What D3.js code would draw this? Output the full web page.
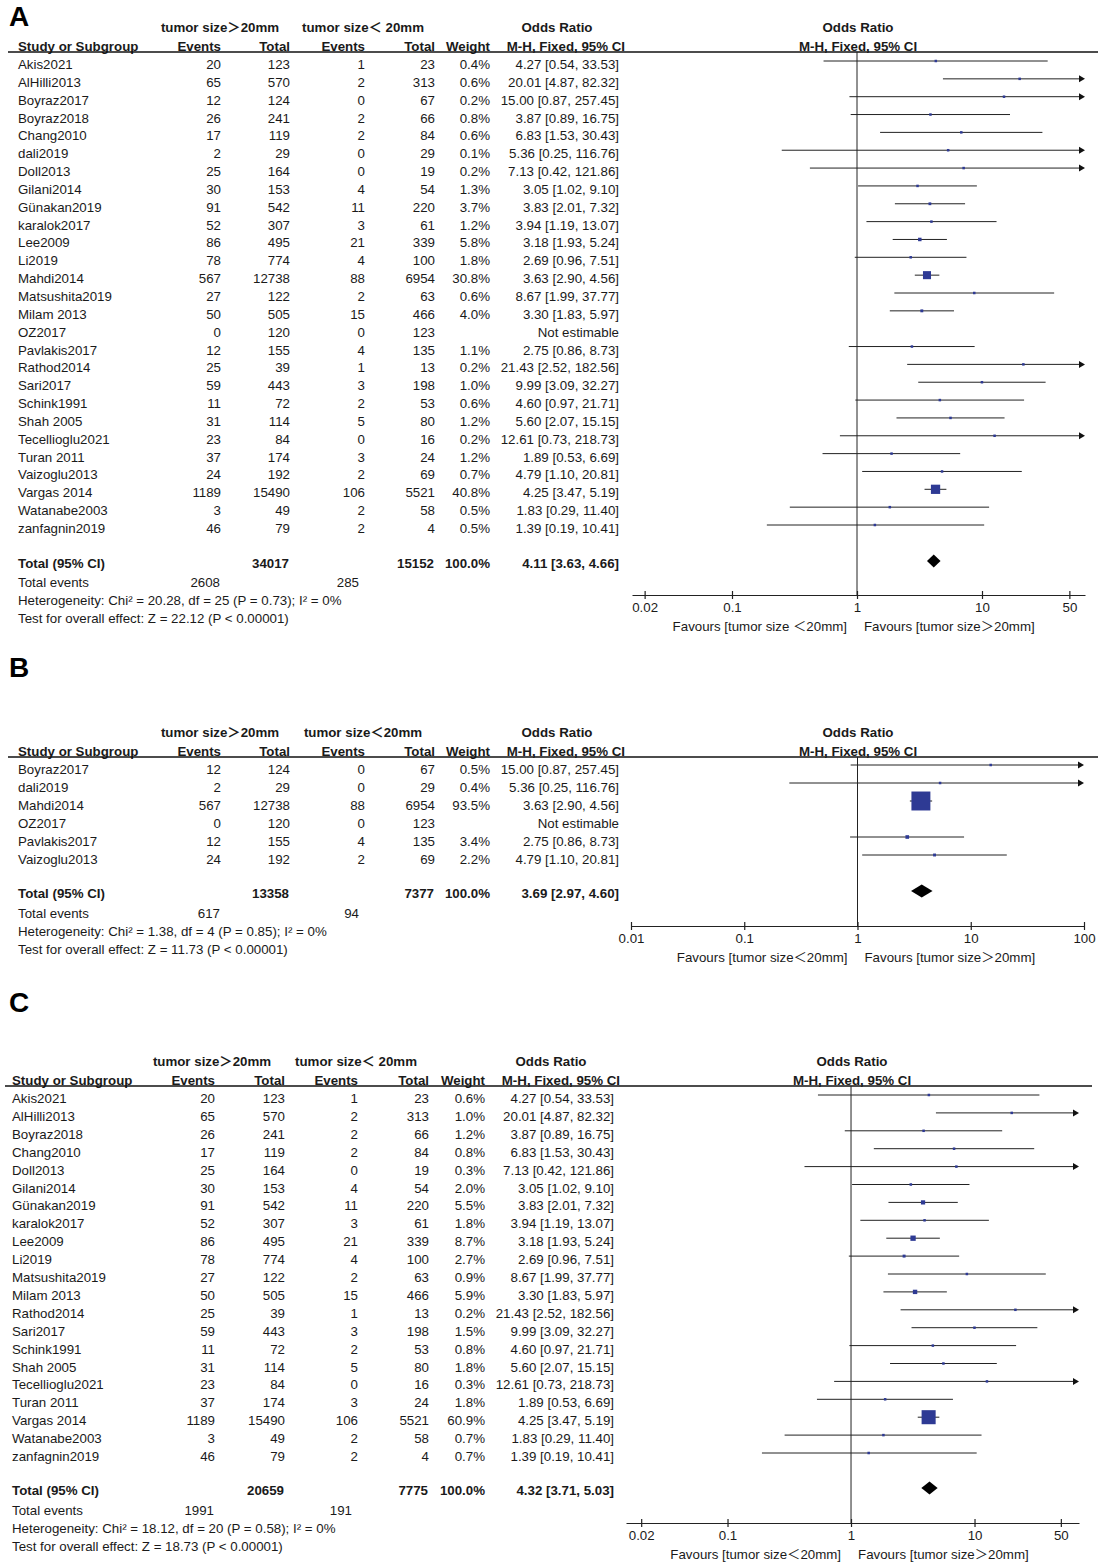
<!DOCTYPE html>
<html><head><meta charset="utf-8">
<script src="https://cdn.jsdelivr.net/npm/d3@7"></script>
<style>
body{margin:0;background:#fff}
svg text{font-family:"Liberation Sans",Arial,"Noto Sans CJK SC",sans-serif;font-size:13.3px;fill:#1a1a1a}
svg text.b{font-weight:bold}
svg text.plabel{font-size:28px;font-weight:bold;fill:#000}
</style></head><body><svg id="c" width="1098" height="1563"></svg>
<script>
// ---------- DATA ----------
const studies = ["Akis2021","AlHilli2013","Boyraz2017","Boyraz2018","Chang2010","dali2019","Doll2013","Gilani2014","Günakan2019","karalok2017","Lee2009","Li2019","Mahdi2014","Matsushita2019","Milam 2013","OZ2017","Pavlakis2017","Rathod2014","Sari2017","Schink1991","Shah 2005","Tecellioglu2021","Turan 2011","Vaizoglu2013","Vargas 2014","Watanabe2003","zanfagnin2019"];
const eventsOver = [20,65,12,26,17,2,25,30,91,52,86,78,567,27,50,0,12,25,59,11,31,23,37,24,1189,3,46];
const totalOver = [123,570,124,241,119,29,164,153,542,307,495,774,12738,122,505,120,155,39,443,72,114,84,174,192,15490,49,79];
const eventsUnder = [1,2,0,2,2,0,0,4,11,3,21,4,88,2,15,0,4,1,3,2,5,0,3,2,106,2,2];
const totalUnder = [23,313,67,66,84,29,19,54,220,61,339,100,6954,63,466,123,135,13,198,53,80,16,24,69,5521,58,4];
const oddsRatio = [4.27,20.01,15.00,3.87,6.83,5.36,7.13,3.05,3.83,3.94,3.18,2.69,3.63,8.67,3.30,null,2.75,21.43,9.99,4.60,5.60,12.61,1.89,4.79,4.25,1.83,1.39];
const ciLower = [0.54,4.87,0.87,0.89,1.53,0.25,0.42,1.02,2.01,1.19,1.93,0.96,2.90,1.99,1.83,null,0.86,2.52,3.09,0.97,2.07,0.73,0.53,1.10,3.47,0.29,0.19];
const ciUpper = [33.53,82.32,257.45,16.75,30.43,116.76,121.86,9.10,7.32,13.07,5.24,7.51,4.56,37.77,5.97,null,8.73,182.56,32.27,21.71,15.15,218.73,6.69,20.81,5.19,11.40,10.41];
const weightA = [0.4,0.6,0.2,0.8,0.6,0.1,0.2,1.3,3.7,1.2,5.8,1.8,30.8,0.6,4.0,null,1.1,0.2,1.0,0.6,1.2,0.2,1.2,0.7,40.8,0.5,0.5];
const studiesB = ["Boyraz2017","dali2019","Mahdi2014","OZ2017","Pavlakis2017","Vaizoglu2013"];
const weightB = [0.5,0.4,93.5,null,3.4,2.2];
const studiesC = ["Akis2021","AlHilli2013","Boyraz2018","Chang2010","Doll2013","Gilani2014","Günakan2019","karalok2017","Lee2009","Li2019","Matsushita2019","Milam 2013","Rathod2014","Sari2017","Schink1991","Shah 2005","Tecellioglu2021","Turan 2011","Vargas 2014","Watanabe2003","zanfagnin2019"];
const weightC = [0.6,1.0,1.2,0.8,0.3,2.0,5.5,1.8,8.7,2.7,0.9,5.9,0.2,1.5,0.8,1.8,0.3,1.8,60.9,0.7,0.7];
// totals: [total >20mm, total <20mm, OR, lower, upper, events >20mm, events <20mm]
const totalsA = [34017,15152,4.11,3.63,4.66,2608,285];
const totalsB = [13358,7377,3.69,2.97,4.60,617,94];
const totalsC = [20659,7775,4.32,3.71,5.03,1991,191];
// [Chi², df, P, I², Z]
const statsA = ["20.28","25","0.73","0%","22.12"];
const statsB = ["1.38","4","0.85","0%","11.73"];
const statsC = ["18.12","20","0.58","0%","18.73"];
const ticksAC = [0.02,0.1,1,10,50];
const ticksB = [0.01,0.1,1,10,100];

// ---------- LAYOUT ----------
const svg = d3.select("#c");
const f2 = d3.format(".2f");
const colsAB = {name:18, ev1:221, tot1:290, ev2:365, tot2:435, w:490, ci:619, cih:625, h1:[220,363,557], ph:858};
const colsC = {name:12, ev1:215, tot1:285, ev2:358, tot2:429, w:485, ci:614, cih:620, h1:[212,356,551], ph:852};

function rowsFor(names, weights){
  return names.map((n,i)=>{const k=studies.indexOf(n);return {name:n,e1:eventsOver[k],t1:totalOver[k],e2:eventsUnder[k],t2:totalUnder[k],or:oddsRatio[k],lo:ciLower[k],hi:ciUpper[k],w:weights[i]};});
}

function drawPanel(cfg, rows, totals, stats){
  const g = svg.append("g");
  const c = cfg.cols;
  g.append("text").attr("class","plabel").attr("x",cfg.labelX).attr("y",cfg.labelY).text(cfg.label);
  const h1y = cfg.lineY-20, h2y = cfg.lineY-1;
  [[cfg.grpHi,c.h1[0]],[cfg.grpLo,c.h1[1]],["Odds Ratio",c.h1[2]],["Odds Ratio",c.ph]].forEach(([t,x])=>{
    g.append("text").attr("class","b").attr("x",x).attr("y",h1y).attr("text-anchor","middle").text(t);
  });
  g.append("text").attr("class","b").attr("x",c.name).attr("y",h2y).text("Study or Subgroup");
  [["Events",c.ev1],["Total",c.tot1],["Events",c.ev2],["Total",c.tot2],["Weight",c.w],["M-H, Fixed, 95% CI",c.cih]].forEach(([t,x])=>{
    g.append("text").attr("class","b").attr("x",x).attr("y",h2y).attr("text-anchor","end").text(t);
  });
  g.append("text").attr("class","b").attr("x",c.ph).attr("y",h2y).attr("text-anchor","middle").text("M-H, Fixed, 95% CI");
  g.append("line").attr("x1",cfg.lineX[0]).attr("x2",cfg.lineX[1]).attr("y1",cfg.lineY).attr("y2",cfg.lineY).attr("stroke","#111").attr("stroke-width",1.3);

  const x = d3.scaleLog().domain(cfg.domain).range(cfg.range);
  const y = d3.scaleLinear().domain([0,rows.length-1]).range([cfg.firstRow,cfg.lastRow]);
  const [dmin,dmax] = cfg.domain;

  rows.forEach((r,i)=>{
    const ty = y(i)+cfg.textDy;
    g.append("text").attr("x",c.name).attr("y",ty).text(r.name);
    [[r.e1,c.ev1],[r.t1,c.tot1],[r.e2,c.ev2],[r.t2,c.tot2]].forEach(([v,xx])=>{
      g.append("text").attr("x",xx).attr("y",ty).attr("text-anchor","end").text(v);
    });
    if(r.w!=null) g.append("text").attr("x",c.w).attr("y",ty).attr("text-anchor","end").text(r.w.toFixed(1)+"%");
    g.append("text").attr("x",c.ci).attr("y",ty).attr("text-anchor","end")
      .text(r.or==null?"Not estimable":`${f2(r.or)} [${f2(r.lo)}, ${f2(r.hi)}]`);
  });

  g.append("line").attr("x1",x(1)).attr("x2",x(1)).attr("y1",cfg.lineY).attr("y2",cfg.axisY).attr("stroke","#222").attr("stroke-width",1);

  const est = rows.map((r,i)=>({...r,i})).filter(r=>r.or!=null);
  est.forEach(r=>{
    const yc = y(r.i);
    const x0 = x(Math.max(r.lo,dmin)), x1 = x(Math.min(r.hi,dmax));
    g.append("line").attr("x1",x0).attr("x2",r.hi>dmax?x1-3:x1).attr("y1",yc).attr("y2",yc).attr("stroke","#222").attr("stroke-width",1);
    if(r.hi>dmax) g.append("path").attr("d",`M${x1},${yc}L${x1-6},${yc-3.5}L${x1-6},${yc+3.5}Z`).attr("fill","#111");
    if(r.lo<dmin) g.append("path").attr("d",`M${x0},${yc}L${x0+6},${yc-3.5}L${x0+6},${yc+3.5}Z`).attr("fill","#111");
    const s = Math.max(2.5, cfg.sq*Math.sqrt(r.w));
    g.append("rect").attr("x",x(r.or)-s/2).attr("y",yc-s/2).attr("width",s).attr("height",s).attr("fill","#2E3A94");
  });

  const ty = cfg.totalY+6.5;
  g.append("text").attr("class","b").attr("x",c.name).attr("y",ty).text("Total (95% CI)");
  g.append("text").attr("class","b").attr("x",c.tot1-1).attr("y",ty).attr("text-anchor","end").text(totals[0]);
  g.append("text").attr("class","b").attr("x",c.tot2-1).attr("y",ty).attr("text-anchor","end").text(totals[1]);
  g.append("text").attr("class","b").attr("x",c.w).attr("y",ty).attr("text-anchor","end").text("100.0%");
  g.append("text").attr("class","b").attr("x",c.ci).attr("y",ty).attr("text-anchor","end").text(`${f2(totals[2])} [${f2(totals[3])}, ${f2(totals[4])}]`);
  const dy = cfg.totalY, xl = x(totals[3]), xm = x(totals[2]), xr = x(totals[4]);
  g.append("path").attr("d",`M${xl},${dy}L${xm},${dy-6.5}L${xr},${dy}L${xm},${dy+6.5}Z`).attr("fill","#000");

  g.append("text").attr("x",c.name).attr("y",cfg.evY).text("Total events");
  g.append("text").attr("x",c.ev1-1).attr("y",cfg.evY).attr("text-anchor","end").text(totals[5]);
  g.append("text").attr("x",c.ev2-6).attr("y",cfg.evY).attr("text-anchor","end").text(totals[6]);
  g.append("text").attr("x",c.name).attr("y",cfg.evY+18).text(`Heterogeneity: Chi² = ${stats[0]}, df = ${stats[1]} (P = ${stats[2]}); I² = ${stats[3]}`);
  g.append("text").attr("x",c.name).attr("y",cfg.evY+36).text(`Test for overall effect: Z = ${stats[4]} (P < 0.00001)`);

  const ax = g.append("g").attr("transform",`translate(0,${cfg.axisY})`)
    .call(d3.axisBottom(x).tickValues(cfg.ticks).tickFormat(d3.format("~g")).tickSizeOuter(0).tickSizeInner(4));
  ax.select(".domain").attr("stroke","#222").attr("stroke-width",1.2);
  ax.selectAll(".tick line").attr("y1",-4).attr("y2",4).attr("stroke","#222").attr("stroke-width",1.2);
  ax.selectAll(".tick text").attr("y",8).attr("dy","0.71em").attr("fill","#1a1a1a").style("font-size","13.3px");
  ax.attr("font-family",null).attr("font-size",null);
  const fy = cfg.axisY+35.5;
  g.append("text").attr("x",x(1)-10).attr("y",fy).attr("text-anchor","end").text(cfg.favL);
  g.append("text").attr("x",x(1)+7).attr("y",fy).text("Favours [tumor size＞20mm]");
}

drawPanel({label:"A",labelX:9,labelY:26,lineY:52,lineX:[8,1098],cols:colsAB,
  grpHi:"tumor size＞20mm",grpLo:"tumor size＜ 20mm",
  domain:[Math.pow(10,-1.8),Math.pow(10,1.824)],range:[632,1085],ticks:ticksAC,sq:1.45,
  firstRow:61,lastRow:525,textDy:8,totalY:561,evY:587,axisY:595,
  favL:"Favours [tumor size ＜20mm]"}, rowsFor(studies,weightA), totalsA, statsA);

drawPanel({label:"B",labelX:9,labelY:677,lineY:757,lineX:[8,1098],cols:colsAB,
  grpHi:"tumor size＞20mm",grpLo:"tumor size＜20mm",
  domain:[0.01,100],range:[631,1084],ticks:ticksB,sq:1.96,
  firstRow:765,lastRow:855,textDy:8.5,totalY:891,evY:917.5,axisY:926,
  favL:"Favours [tumor size＜20mm]"}, rowsFor(studiesB,weightB), totalsB, statsB);

drawPanel({label:"C",labelX:9,labelY:1012,lineY:1086,lineX:[5,1092],cols:colsC,
  grpHi:"tumor size＞20mm",grpLo:"tumor size＜ 20mm",
  domain:[Math.pow(10,-1.822),Math.pow(10,1.846)],range:[626,1079],ticks:ticksAC,sq:1.8,
  firstRow:1095,lastRow:1453,textDy:8,totalY:1488,evY:1514.5,axisY:1523,
  favL:"Favours [tumor size＜20mm]"}, rowsFor(studiesC,weightC), totalsC, statsC);
</script></body></html>
